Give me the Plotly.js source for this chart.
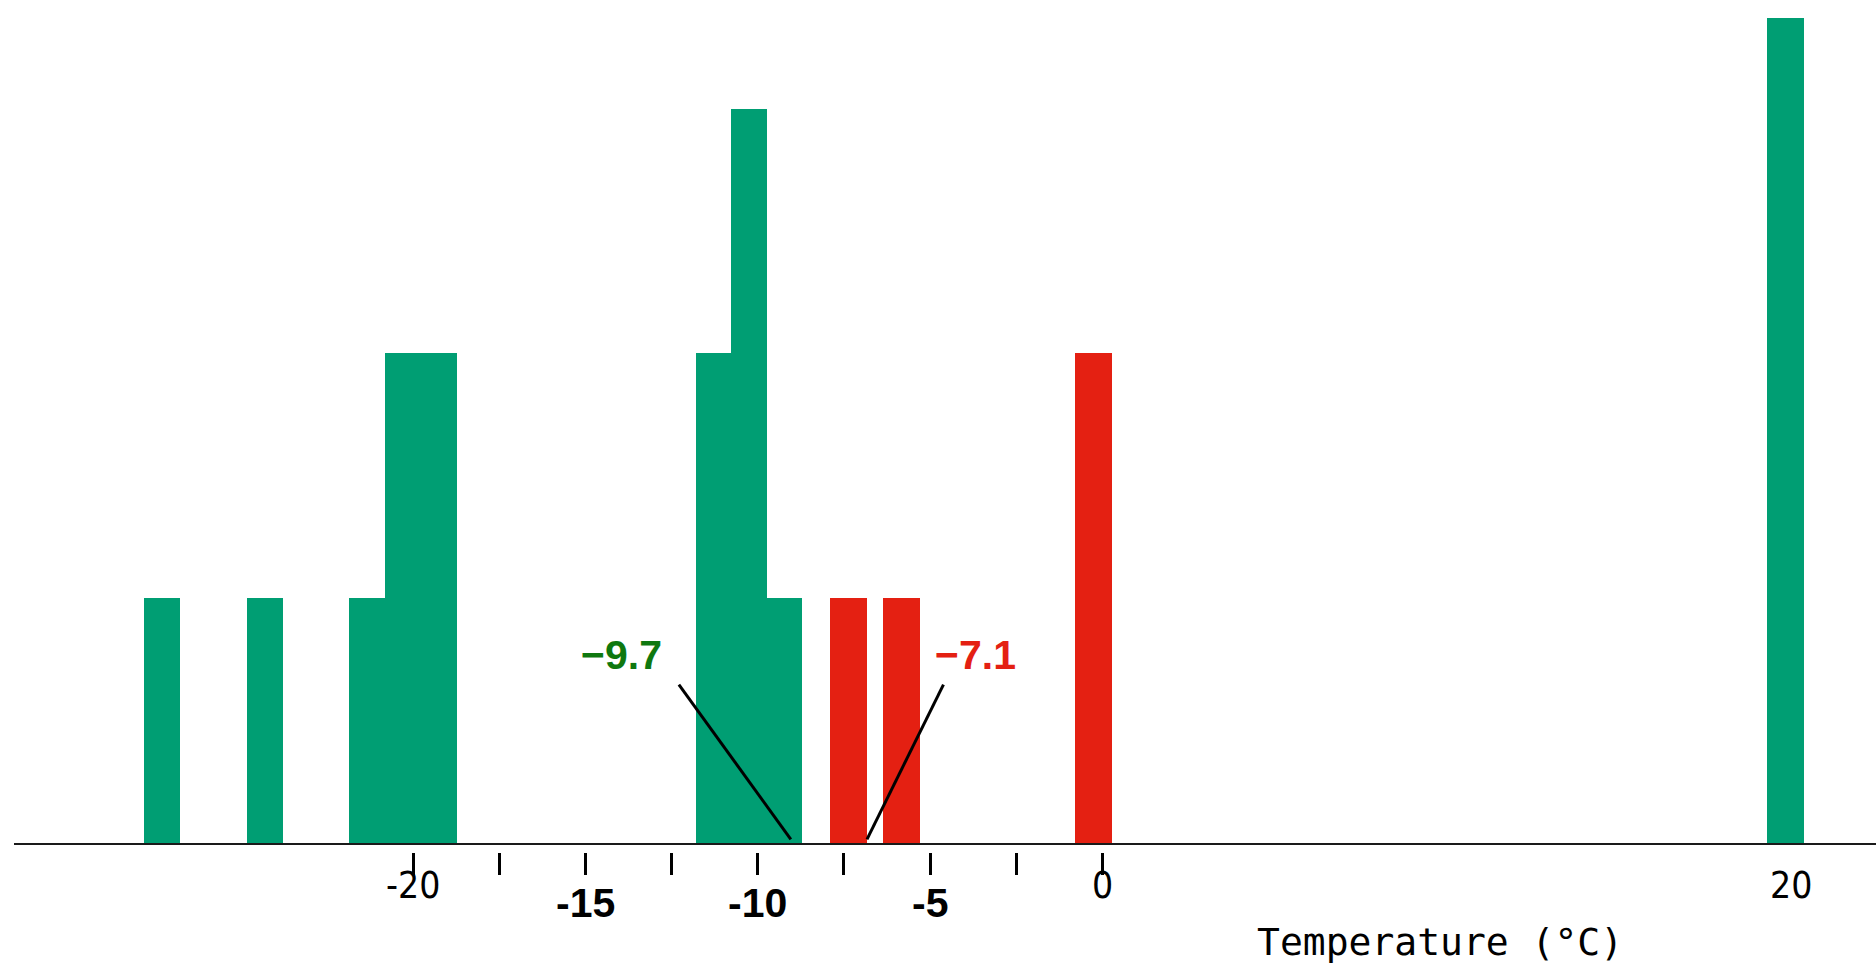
<!DOCTYPE html>
<html>
<head>
<meta charset="utf-8">
<script src="https://cdn.plot.ly/plotly-3.0.1.min.js"></script>
<style>
html,body{margin:0;padding:0;background:#fff;}
#chart{width:1876px;height:968px;}
</style>
</head>
<body>
<div id="chart"></div>
<script>
// ---- data ----
const greenCenters = [-27.29, -24.31, -21.34, -20.30, -19.26, -11.27, -10.26, -9.25, 19.83];
const greenCounts  = [1, 1, 1, 2, 2, 2, 3, 1, 3.37];
const redCenters   = [-7.36, -5.83, -0.25];
const redCounts    = [1, 1, 2];
const tickValues   = [-20, -17.5, -15, -12.5, -10, -7.5, -5, -2.5, 0];
const plainTickVals  = [-20, 0, 20];
const plainTickText  = ['-20', '0', '20'];
const boldTickVals   = [-15, -10, -5];
const boldTickText   = ['-15', '-10', '-5'];
const greenMean = -9.7;
const redMean   = -7.1;
const axisTitle = 'Temperature (°C)';

const binWidth = 1.06;
const GREEN = '#009e73';
const RED = '#e42012';

const traces = [
  {type:'bar', x:greenCenters, y:greenCounts, width:greenCenters.map(()=>binWidth),
   marker:{color:GREEN, line:{width:0}}, hoverinfo:'x+y', showlegend:false},
  {type:'bar', x:redCenters, y:redCounts, width:redCenters.map(()=>binWidth),
   marker:{color:RED, line:{width:0}}, hoverinfo:'x+y', showlegend:false},
  {type:'scatter', x:[], y:[], xaxis:'x2', yaxis:'y', showlegend:false, hoverinfo:'skip'}
];

const xr = [-31.59, 22.46];
const annotations = [];
plainTickVals.forEach((v,i)=>annotations.push({
  x:v, xref:'x', y:0, yref:'paper', yanchor:'middle', xanchor:'center', yshift:-33,
  text:plainTickText[i], showarrow:false,
  font:{family:'"Liberation Sans Narrow", "DejaVu Sans Condensed", "DejaVu Sans Mono", monospace', size:37, color:'#000'}
}));
boldTickVals.forEach((v,i)=>annotations.push({
  x:v, xref:'x', y:0, yref:'paper', yanchor:'middle', xanchor:'center', yshift:-51,
  text:'<b>'+boldTickText[i]+'</b>', showarrow:false,
  font:{family:'"Liberation Sans", Arial, sans-serif', size:41, color:'#000'}
}));
annotations.push({
  x:0.766, xref:'paper', y:0, yref:'paper', yanchor:'middle', xanchor:'center', yshift:-90,
  text:axisTitle, showarrow:false,
  font:{family:'"DejaVu Sans Mono", monospace', size:38, color:'#000'}
});
annotations.push({
  x:-13.96, xref:'x', y:0.77, yref:'y', xanchor:'center', yanchor:'middle',
  text:'<b>\u2212'+Math.abs(greenMean).toFixed(1)+'</b>', showarrow:false,
  font:{family:'"Liberation Sans", Arial, sans-serif', size:41, color:'#0f780f'}
});
annotations.push({
  x:-3.67, xref:'x', y:0.77, yref:'y', xanchor:'center', yanchor:'middle',
  text:'<b>\u2212'+Math.abs(redMean).toFixed(1)+'</b>', showarrow:false,
  font:{family:'"Liberation Sans", Arial, sans-serif', size:41, color:RED}
});

const shapes = [
  {type:'line', xref:'x', yref:'y', x0:-12.29, y0:0.647, x1:-9.04, y1:0.015, line:{color:'#000', width:3}},
  {type:'line', xref:'x', yref:'y', x0:-4.61, y0:0.647, x1:-6.83, y1:0.015, line:{color:'#000', width:3}}
];

const layout = {
  width:1876, height:968,
  margin:{l:14, r:0, t:18, b:116, pad:0},
  paper_bgcolor:'#fff', plot_bgcolor:'#fff',
  showlegend:false, bargap:0,
  xaxis:{range:xr, showgrid:false, zeroline:false, showline:true, linecolor:'#1a1a1a', linewidth:2,
         ticks:'', showticklabels:false, fixedrange:true},
  xaxis2:{range:xr, overlaying:'x', anchor:'free', position:0, side:'bottom',
          showgrid:false, zeroline:false, showline:false,
          tickmode:'array', tickvals:tickValues, ticks:'outside', ticklen:22, tickwidth:3, tickcolor:'#000',
          showticklabels:false, fixedrange:true},
  yaxis:{range:[0,3.37], domain:[9/834, 1], showgrid:false, zeroline:false, showline:false,
         showticklabels:false, ticks:'', fixedrange:true},
  annotations:annotations,
  shapes:shapes
};

Plotly.newPlot('chart', traces, layout, {displayModeBar:false, staticPlot:true});
</script>
</body>
</html>
